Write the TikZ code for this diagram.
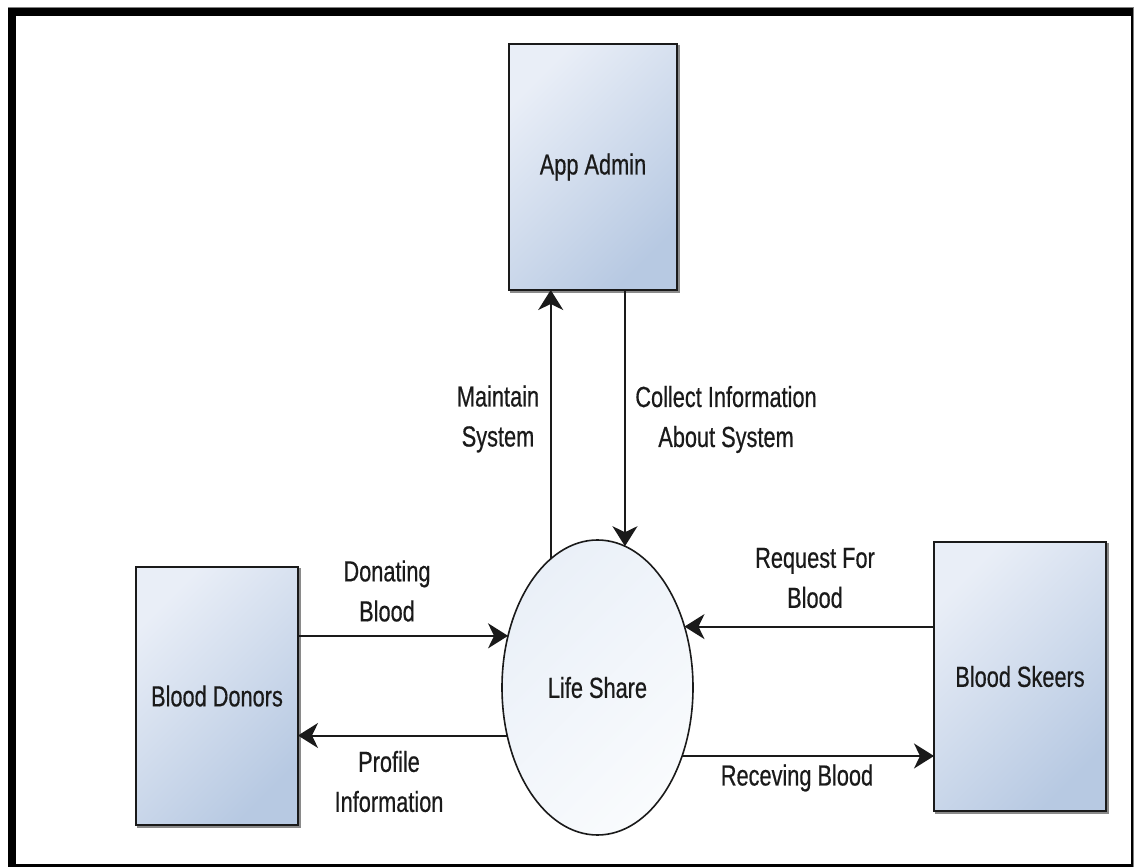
\documentclass[tikz,border=0pt]{standalone}
\usepackage{fontspec}
\setmainfont{Liberation Sans}[FakeStretch=0.75,FakeBold=0.5]
\usetikzlibrary{arrows.meta,shapes.geometric}
\definecolor{boxlight}{HTML}{E9EEF7}
\definecolor{boxdark}{HTML}{B7C9E2}
\definecolor{ovallight}{HTML}{EAF0F8}
\definecolor{ovaldark}{HTML}{F9FBFD}
\definecolor{ink}{HTML}{1A1A1A}
\definecolor{shadowgray}{HTML}{8A8A8A}
\begin{document}
\begin{tikzpicture}[x=1pt,y=1pt,
  every node/.style={font=\fontsize{29}{40}\selectfont, text=ink, inner sep=0pt, outer sep=0pt, align=center},
  entity/.style={draw=ink, line width=2pt, top color=boxlight, bottom color=boxdark, shading angle=45,
    preaction={draw=shadowgray, line width=2pt, transform canvas={shift={(2pt,-2pt)}}}},
  process/.style={ellipse, draw=ink, line width=1.6pt, top color=ovallight, bottom color=ovaldark, shading angle=45,
    minimum width=191pt, minimum height=295pt},
  flow/.style={draw=ink, line width=2pt, -{Stealth[length=20pt, width=25pt, inset=6pt]}},
  flowlabel/.style={}
]
% page and frame
\useasboundingbox (0,0) rectangle (1134,867);
\fill[white] (0,0) rectangle (1134,867);
\fill[gray] (8,0) rectangle (1134,860);
\fill[black] (8,0) rectangle (1133,859);
\fill[white] (16,3) rectangle (1131,851);

% entities and process
\node[entity, minimum width=168pt, minimum height=246pt] (admin) at (593,700) {\raisebox{-3pt}{App Admin}};
\node[entity, minimum width=162pt, minimum height=258pt] (donors) at (217,171) {Blood Donors};
\node[entity, minimum width=172pt, minimum height=269pt] (seekers) at (1020,190.5) {Blood Skeers};
\node[process] (life) at (597.5,179.5) {Life Share};

% data flows
\draw[flow] (life.110.4) -- (life.110.4 |- admin.south);
\draw[flow] (admin.south -| life.79.8) -- (life.79.8);
\draw[flow] (life.150.6 -| donors.east) -- (life.150.6);
\draw[flow] (life.208.8) -- (life.208.8 -| donors.east);
\draw[flow] (life.35.3 -| seekers.west) -- (life.35.3);
\draw[flow] (life.321.5) -- (life.321.5 -| seekers.west);

% flow labels
\node[flowlabel] (lmaintain) at (498,448) {Maintain\\System};
\node[flowlabel] (lcollect) at (726,447.5) {Collect Information\\About System};
\node[flowlabel] (ldonate) at (387,276) {Donating\\Blood};
\node[flowlabel] (lprofile) at (389,85.5) {Profile\\Information};
\node[flowlabel] (lrequest) at (815,289) {Request For\\Blood};
\node[flowlabel] (lreceive) at (797,89) {Receving Blood};
\end{tikzpicture}
\end{document}
